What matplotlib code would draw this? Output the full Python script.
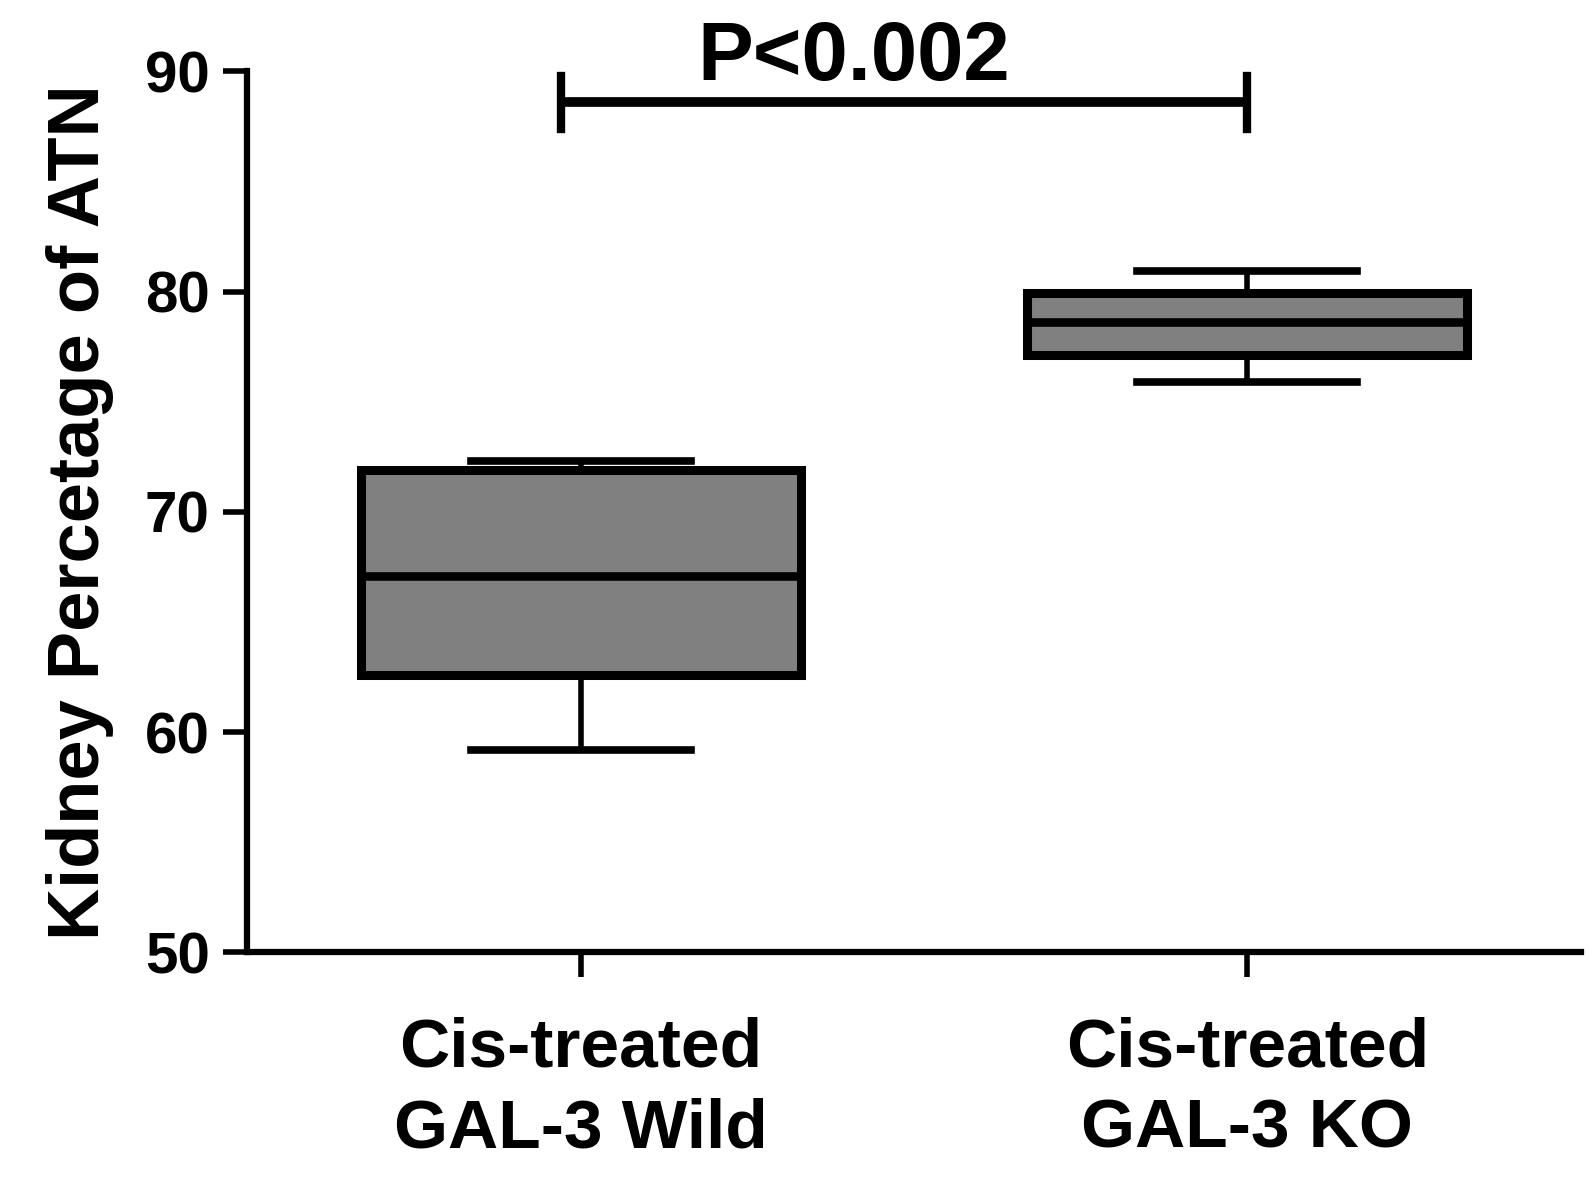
"""Box plot of kidney ATN percentage, Cis-treated GAL-3 wild vs KO."""
import matplotlib
matplotlib.use("Agg")
import matplotlib.pyplot as plt

# box statistics
groups = ["Cis-treated\nGAL-3 Wild", "Cis-treated\nGAL-3 KO"]
whisker_low = [59.2, 75.9]
q1 = [62.6, 77.1]
medians = [67.1, 78.6]
q3 = [71.9, 79.95]
whisker_high = [72.3, 80.95]
yticks = [50, 60, 70, 80, 90]
p_text = "P<0.002"

plt.rcParams["font.family"] = ["Liberation Sans", "DejaVu Sans"]
plt.rcParams["font.weight"] = "bold"

fig = plt.figure(figsize=(15.95, 11.89), dpi=100)
ax = fig.add_axes([0.155, 0.199, 0.836, 0.741])

stats = []
for i in range(len(groups)):
    stats.append({"whislo": whisker_low[i], "q1": q1[i], "med": medians[i],
                  "q3": q3[i], "whishi": whisker_high[i], "fliers": []})

ax.bxp(stats, positions=[1, 2], widths=0.66, patch_artist=True,
       showfliers=False,
       boxprops=dict(facecolor="#808080", edgecolor="black", linewidth=6.5),
       medianprops=dict(color="black", linewidth=6.2),
       whiskerprops=dict(color="black", linewidth=4),
       capprops=dict(color="black", linewidth=5.5),
       capwidths=0.33)

ax.set_xlim(0.5, 2.5)
ax.set_ylim(50, 90)
ax.set_yticks(yticks)
ax.set_xticks([1, 2])
ax.set_xticklabels(groups, fontsize=50, fontweight="bold", linespacing=1.35)
ax.tick_params(axis="y", labelsize=42, width=4, length=17, pad=10)
ax.tick_params(axis="x", width=4, length=18, pad=28)
for lab in ax.get_yticklabels():
    lab.set_fontweight("bold")

for side in ["top", "right"]:
    ax.spines[side].set_visible(False)
for side in ["left", "bottom"]:
    ax.spines[side].set_linewidth(4.5)

ax.set_ylabel("Kidney Percetage of ATN", fontsize=52, fontweight="bold",
              labelpad=22)

# significance bar
bar_y = 88.6
ax.plot([0.97, 2.0], [bar_y, bar_y], color="black", lw=7, clip_on=False,
        solid_capstyle="butt")
for xe in [0.97, 2.0]:
    ax.plot([xe, xe], [bar_y - 1.2, bar_y + 1.2], color="black", lw=6,
            clip_on=False)
ax.text(1.41, 90.6, p_text, fontsize=60, fontweight="bold", ha="center",
        va="center", clip_on=False)

fig.savefig("out.png", dpi=100)
